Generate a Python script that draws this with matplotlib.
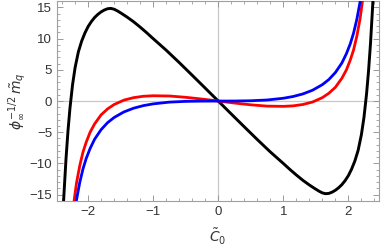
import numpy as np
import matplotlib.pyplot as plt
from matplotlib.ticker import MultipleLocator

# values (x >= 0 half, curves are odd in C0)
c0_black = [0.0, 0.2, 0.4, 0.6, 0.8, 1.0, 1.1, 1.2, 1.3, 1.4, 1.48, 1.55, 1.6,
            1.65, 1.7, 1.75, 1.8, 1.85, 1.9, 1.95, 2.0, 2.05, 2.1, 2.15, 2.2,
            2.24, 2.28, 2.31, 2.34, 2.37, 2.39]
black_half = [0.0, -2.07, -4.13, -6.17, -8.15, -10.0, -10.95, -11.85, -12.7,
              -13.45, -14.0, -14.45, -14.72, -14.85, -14.8, -14.6, -14.3,
              -13.9, -13.4, -12.75, -11.95, -10.9, -9.6, -7.9, -5.4, -2.6, 1.2,
              4.8, 9.2, 14.6, 18.5]

c0_blue = [0.0, 0.25, 0.5, 0.75, 1.0, 1.15, 1.3, 1.45, 1.6, 1.7, 1.8, 1.9,
           1.97, 2.03, 2.08, 2.13, 2.18, 2.22]
blue_half = [0.0, 0.006, 0.05, 0.17, 0.45, 0.73, 1.14, 1.74, 2.63, 3.45, 4.57,
             6.1, 7.6, 9.2, 10.9, 13.1, 15.9, 19.2]

c0_red = [0.0, 0.25, 0.5, 0.75, 1.0, 1.15, 1.3, 1.45, 1.6, 1.7, 1.8, 1.9, 1.97,
          2.03, 2.08, 2.13, 2.18, 2.22, 2.25]
red_half = [0.0, -0.32, -0.6, -0.81, -0.85, -0.77, -0.55, -0.15, 0.55, 1.25,
            2.2, 3.65, 5.0, 6.6, 8.2, 10.4, 13.2, 16.3, 19.0]


def full(xs, ys):
    xs = np.asarray(xs)
    ys = np.asarray(ys)
    return np.r_[-xs[:0:-1], xs], np.r_[-ys[:0:-1], ys]


plt.rcParams['font.family'] = ['Liberation Sans', 'DejaVu Sans']
plt.rcParams['mathtext.fontset'] = 'dejavusans'

fig = plt.figure(figsize=(3.82, 2.48), dpi=100)
ax = fig.add_axes([0.149, 0.19, 0.843, 0.805])

ax.axhline(0, color='#c8c8c8', lw=0.9, zorder=1)
ax.axvline(0, color='#c8c8c8', lw=0.9, zorder=1)

x, y = full(c0_black, black_half)
ax.plot(x, y, color='black', lw=2.1, zorder=3, solid_joinstyle='round')
x, y = full(c0_red, red_half)
ax.plot(x, y, color='red', lw=2.0, zorder=4, solid_joinstyle='round')
x, y = full(c0_blue, blue_half)
ax.plot(x, y, color='blue', lw=2.0, zorder=5, solid_joinstyle='round')

ax.set_xlim(-2.48, 2.47)
ax.set_ylim(-16, 16)
ax.xaxis.set_major_locator(MultipleLocator(1))
ax.xaxis.set_minor_locator(MultipleLocator(0.2))
ax.yaxis.set_major_locator(MultipleLocator(5))
ax.yaxis.set_minor_locator(MultipleLocator(1))
ax.tick_params(which='both', direction='in', top=True, right=True,
               color='#999999', labelsize=9.5, labelcolor='#333333')
ax.tick_params(which='major', length=4.5, width=0.7)
ax.tick_params(which='minor', length=2.5, width=0.6)
for s in ax.spines.values():
    s.set_color('#a0a0a0')
    s.set_linewidth(0.8)

ax.set_xlabel(r'$\tilde{C}_0$', fontsize=10, color='#333333', labelpad=7)
ax.set_ylabel(r'$\phi_\infty^{-1/2}\,\tilde{m}_q$', fontsize=10, color='#333333',
              labelpad=0)

fig.savefig('out.png', dpi=100)
